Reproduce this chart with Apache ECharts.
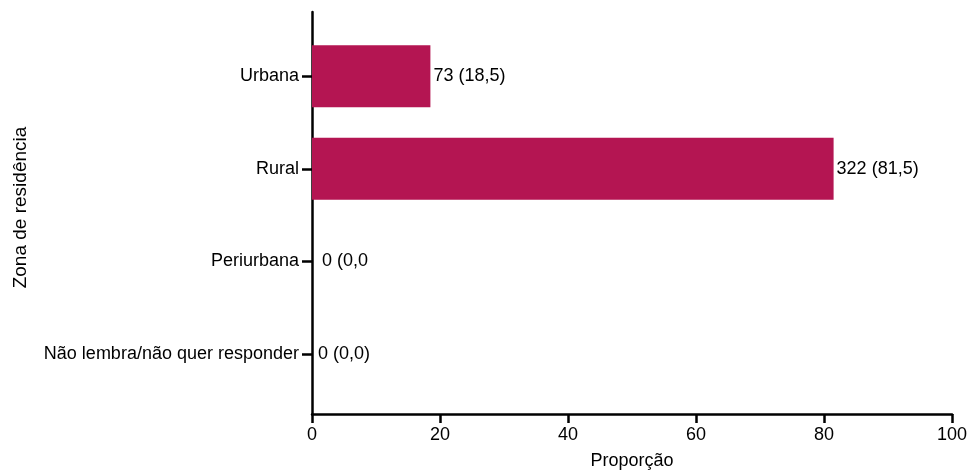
<!DOCTYPE html>
<html>
<head>
<meta charset="utf-8">
<script src="https://cdn.jsdelivr.net/npm/echarts@6/dist/echarts.min.js"></script>
<style>
  html, body { margin: 0; padding: 0; background: #fff; }
  #chart { width: 972px; height: 475px; }
</style>
</head>
<body>
<div id="chart"></div>
<script>
// Zona de residência: contagem e proporção (%)
const categories = ["Urbana", "Rural", "Periurbana", "Não lembra/não quer responder"];
const counts = [73, 322, 0, 0];
const percents = [18.5, 81.5, 0, 0];
const valueLabels = ["73 (18,5)", "322 (81,5)", "0 (0,0", "0 (0,0)"];
const xTicks = [0, 20, 40, 60, 80, 100];

const FONT = "Liberation Sans, Arial, sans-serif";
const INK = "#000";
const BAR = "#B41552";

// label gap next to each bar end
const labelGap = [3, 3, 10, 6];

const chart = echarts.init(document.getElementById("chart"), null, { renderer: "canvas" });

chart.setOption({
  animation: false,
  backgroundColor: "#fff",
  grid: [
    // outer frame: axis lines, x ticks and titles
    { left: 312, right: 20, top: 12, bottom: 61, containLabel: false },
    // inner band area holding the bars
    { left: 312, right: 20, top: 30, bottom: 75, containLabel: false }
  ],
  xAxis: [
    {
      gridIndex: 0,
      type: "value",
      min: xTicks[0],
      max: xTicks[xTicks.length - 1],
      interval: xTicks[1] - xTicks[0],
      name: "Proporção",
      nameLocation: "middle",
      nameGap: 38,
      nameTextStyle: { fontFamily: FONT, fontSize: 18, color: INK },
      axisLine: { show: true, lineStyle: { color: INK, width: 2.5 } },
      axisTick: { show: true, length: 9, lineStyle: { color: INK, width: 2.5 } },
      axisLabel: { fontFamily: FONT, fontSize: 18, color: INK, margin: 12 },
      splitLine: { show: false }
    },
    {
      gridIndex: 1,
      type: "value",
      min: xTicks[0],
      max: xTicks[xTicks.length - 1],
      show: false
    }
  ],
  yAxis: [
    {
      gridIndex: 0,
      type: "value",
      min: 0,
      max: 1,
      name: "Zona de residência",
      nameLocation: "middle",
      nameGap: 282,
      nameRotate: 90,
      nameTextStyle: { fontFamily: FONT, fontSize: 19, color: INK, padding: [0, 0, 0, 11] },
      axisLine: { show: true, lineStyle: { color: INK, width: 2.5 } },
      axisTick: { show: false },
      axisLabel: { show: false },
      splitLine: { show: false }
    },
    {
      gridIndex: 1,
      type: "category",
      data: categories,
      inverse: true,
      axisLine: { show: false },
      axisTick: { show: true, alignWithLabel: true, length: 10, lineStyle: { color: INK, width: 2.5 } },
      axisLabel: { fontFamily: FONT, fontSize: 18, color: INK, margin: 13 },
      splitLine: { show: false }
    }
  ],
  series: [
    {
      type: "bar",
      xAxisIndex: 1,
      yAxisIndex: 1,
      data: percents.map((v, i) => ({
        value: v,
        label: { distance: labelGap[i] }
      })),
      barWidth: "67%",
      itemStyle: { color: BAR },
      label: {
        show: true,
        position: "right",
        fontFamily: FONT,
        fontSize: 18,
        color: INK,
        formatter: p => valueLabels[p.dataIndex]
      }
    }
  ]
});
</script>
</body>
</html>
